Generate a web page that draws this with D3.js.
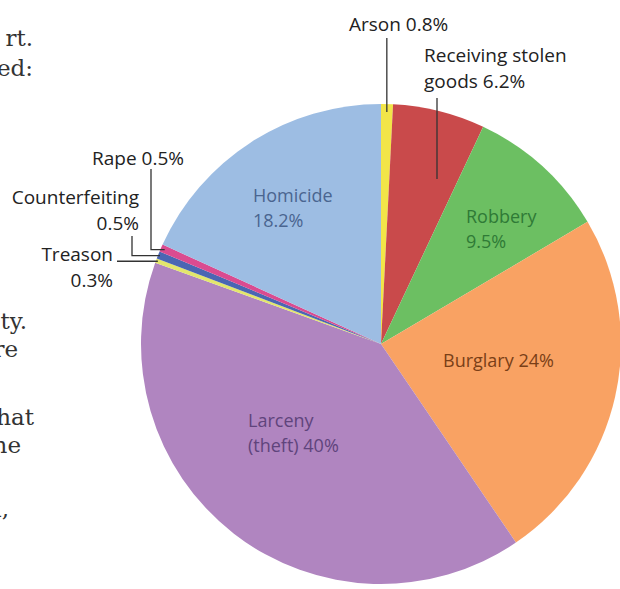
<!DOCTYPE html>
<html>
<head>
<meta charset="utf-8">
<script src="https://cdn.jsdelivr.net/npm/d3@7"></script>
<style>
  html, body { margin: 0; padding: 0; background: #fff; }
  body { width: 620px; height: 589px; overflow: hidden; }
  .lbl { font-family: "Open Sans", sans-serif; font-size: 19px; fill: #222; }
  .inner { font-family: "Open Sans", sans-serif; font-size: 18px; }
  .page { font-family: "DejaVu Serif", serif; font-size: 23px; fill: #333; }
  .leader { fill: none; stroke: #333; stroke-width: 1.3; }
</style>
</head>
<body>
<script>
const width = 620;
const height = 589;

// clockwise from 12 o'clock
const crimes = ["Arson", "Receiving stolen goods", "Robbery", "Burglary", "Larceny (theft)",
  "Treason", "Counterfeiting", "Rape", "Homicide"];
const shares = [0.8, 6.2, 9.5, 24, 40, 0.3, 0.5, 0.5, 18.2];
const sliceColors = ["#f2e548", "#c94a4b", "#6cbf62", "#f9a263", "#b085c0",
  "#e3e66c", "#4a66b3", "#da4b90", "#9dbde3"];

// text of the book page cut by the left edge
const pageText = ["rt.", "ed:", "ty.", "re", "hat", "he", "d,"];
const pageBaselines = [46, 76, 329, 357, 425, 453, 517];

const cx = 381, cy = 344, R = 240;

const svg = d3.select("body").append("svg")
  .attr("width", width)
  .attr("height", height);

const pie = d3.pie().sort(null).value((d) => d);
const arcs = pie(shares);
const arc = d3.arc().innerRadius(0).outerRadius(R);

const g = svg.append("g").attr("transform", `translate(${cx},${cy})`);

g.selectAll("path.slice")
  .data(arcs)
  .join("path")
  .attr("class", "slice")
  .attr("d", arc)
  .attr("fill", (d, i) => sliceColors[i]);

// point on a slice's mid angle at radius r, in page coords
const at = (i, r) => {
  const a = (arcs[i].startAngle + arcs[i].endAngle) / 2;
  return [cx + r * Math.sin(a), cy - r * Math.cos(a)];
};

// page fragments
svg.selectAll("text.page")
  .data(pageText)
  .join("text")
  .attr("class", "page")
  .attr("x", (d, i) => [33, 33, 27, 18, 34, 21, 9][i])
  .attr("y", (d, i) => pageBaselines[i])
  .attr("text-anchor", "end")
  .text((d) => d);

// leaders
const arsonEnd = at(0, R - 8);
svg.append("path").attr("class", "leader")
  .attr("d", `M${arsonEnd[0]},38V${arsonEnd[1]}`);

const recvEnd = at(1, R - 70);
svg.append("path").attr("class", "leader")
  .attr("d", `M437,98V${recvEnd[1]}`);

const rapeEnd = at(7, R - 4);
svg.append("path").attr("class", "leader")
  .attr("d", `M151,169V${rapeEnd[1]}H${rapeEnd[0]}`);

const cfEnd = at(6, R - 2);
svg.append("path").attr("class", "leader")
  .attr("d", `M132,236V${cfEnd[1]}H${cfEnd[0]}`);

const trEnd = at(5, R - 2);
svg.append("path").attr("class", "leader")
  .attr("d", `M117,${trEnd[1]}H${trEnd[0]}`);

// outside labels
const outside = [
  { lines: ["Arson 0.8%"], x: 349, y: 31, anchor: "start" },
  { lines: ["Receiving stolen", "goods 6.2%"], x: 424, y: 62, anchor: "start" },
  { lines: ["Rape 0.5%"], x: 184, y: 165, anchor: "end" },
  { lines: ["Counterfeiting", "0.5%"], x: 139, y: 204, anchor: "end" },
  { lines: ["Treason", "0.3%"], x: 113, y: 261, anchor: "end" },
];

outside.forEach((o) => {
  const t = svg.append("text").attr("class", "lbl")
    .attr("text-anchor", o.anchor);
  o.lines.forEach((l, k) => {
    t.append("tspan").attr("x", o.x).attr("y", o.y + k * 26).text(l);
  });
});

// labels inside the slices
const inside = [
  { lines: ["Homicide", "18.2%"], x: 253, y: 202, color: "#4a6590" },
  { lines: ["Robbery", "9.5%"], x: 466, y: 223, color: "#2f7a36" },
  { lines: ["Burglary 24%"], x: 443, y: 367, color: "#7a3f17" },
  { lines: ["Larceny", "(theft) 40%"], x: 248, y: 427, color: "#5f447c" },
];

inside.forEach((o) => {
  const t = svg.append("text").attr("class", "inner").attr("fill", o.color);
  o.lines.forEach((l, k) => {
    t.append("tspan").attr("x", o.x).attr("y", o.y + k * 25).text(l);
  });
});
</script>
</body>
</html>
